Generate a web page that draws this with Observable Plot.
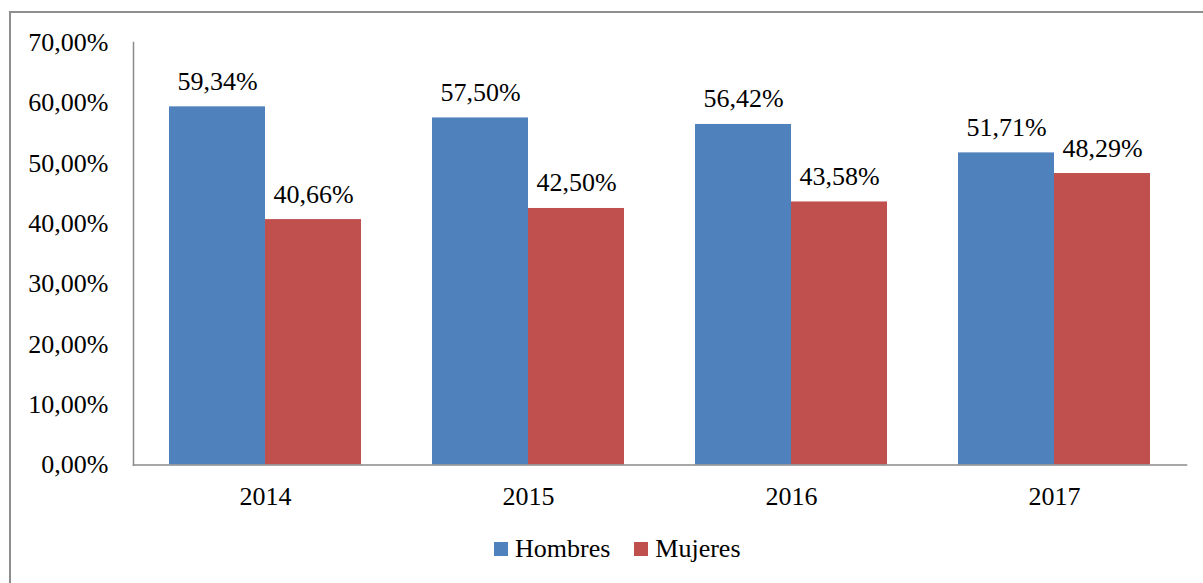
<!DOCTYPE html>
<html>
<head>
<meta charset="utf-8">
<script src="https://cdn.jsdelivr.net/npm/d3@7"></script>
<script src="https://cdn.jsdelivr.net/npm/@observablehq/plot@0.6"></script>
<style>
  html, body { margin: 0; padding: 0; background: #fff; overflow: hidden; width: 1203px; height: 583px; }
  #border { position: absolute; left: 9px; top: 11px; width: 1210px; height: 620px; border: 2px solid #8e8e8e; box-sizing: border-box; pointer-events: none; }
  #chart { position: absolute; left: 0; top: 0; }
  #chart svg, #chart svg text { font-family: "Liberation Serif", "Times New Roman", serif; }
  #legend { position: absolute; left: 494px; top: 535px; height: 28px; display: flex; align-items: center; font-family: "Liberation Serif", "Times New Roman", serif; font-size: 26px; color: #000; }
  .sw { width: 14px; height: 14px; display: inline-block; margin-right: 7px; }
  .item { display: flex; align-items: center; margin-right: 24px; }
</style>
</head>
<body>
<div id="chart"></div>
<div id="legend"></div>
<div id="border"></div>
<script>
const years = ["2014", "2015", "2016", "2017"];
const hombres = [59.34, 57.50, 56.42, 51.71];
const mujeres = [40.66, 42.50, 43.58, 48.29];
const yTicks = [0, 10, 20, 30, 40, 50, 60, 70];
const series = ["Hombres", "Mujeres"];
const colors = ["#4F81BD", "#C0504D"];

const FONT = "Liberation Serif";
const FS = 26;
const fmt = v => d3.format(".2f")(v).replace(".", ",") + "%";

const dataH = years.map((y, i) => ({year: y, value: hombres[i]}));
const dataM = years.map((y, i) => ({year: y, value: mujeres[i]}));

const W = 1203, H = 520;
const chart = Plot.plot({
  width: W,
  height: H,
  marginLeft: 133,
  marginRight: 17,
  marginTop: 42,
  marginBottom: 55.5,
  style: {fontFamily: FONT, fontSize: FS + "px", background: "transparent", color: "#000"},
  x: {domain: years, paddingInner: 0.2707, paddingOuter: 0.1353, label: null},
  y: {domain: [0, 70], label: null},
  marks: [
    Plot.barY(dataH, {x: "year", y: "value", fill: colors[0], insetRight: 96}),
    Plot.barY(dataM, {x: "year", y: "value", fill: colors[1], insetLeft: 96}),
    Plot.text(dataH, {x: "year", y: "value", text: d => fmt(d.value), dx: -48, dy: -17, lineAnchor: "bottom", fill: "#000", fontSize: FS, fontFamily: FONT}),
    Plot.text(dataM, {x: "year", y: "value", text: d => fmt(d.value), dx: 48, dy: -17, lineAnchor: "bottom", fill: "#000", fontSize: FS, fontFamily: FONT}),
    Plot.frame({anchor: "left", stroke: "#8a8a8a", strokeWidth: 1.5}),
    Plot.frame({anchor: "bottom", stroke: "#8a8a8a", strokeWidth: 1.5}),
    Plot.axisY({ticks: yTicks, tickSize: 0, tickPadding: 25, tickFormat: fmt, label: null, fontSize: FS, fontFamily: FONT, fill: "#000"}),
    Plot.axisX({tickSize: 0, tickPadding: 22, label: null, fontSize: FS, fontFamily: FONT, fill: "#000"})
  ]
});
document.getElementById("chart").appendChild(chart);

const legend = document.getElementById("legend");
series.forEach((s, i) => {
  const item = document.createElement("div");
  item.className = "item";
  const sw = document.createElement("span");
  sw.className = "sw";
  sw.style.background = colors[i];
  const t = document.createElement("span");
  t.textContent = s;
  item.appendChild(sw);
  item.appendChild(t);
  legend.appendChild(item);
});
</script>
</body>
</html>
